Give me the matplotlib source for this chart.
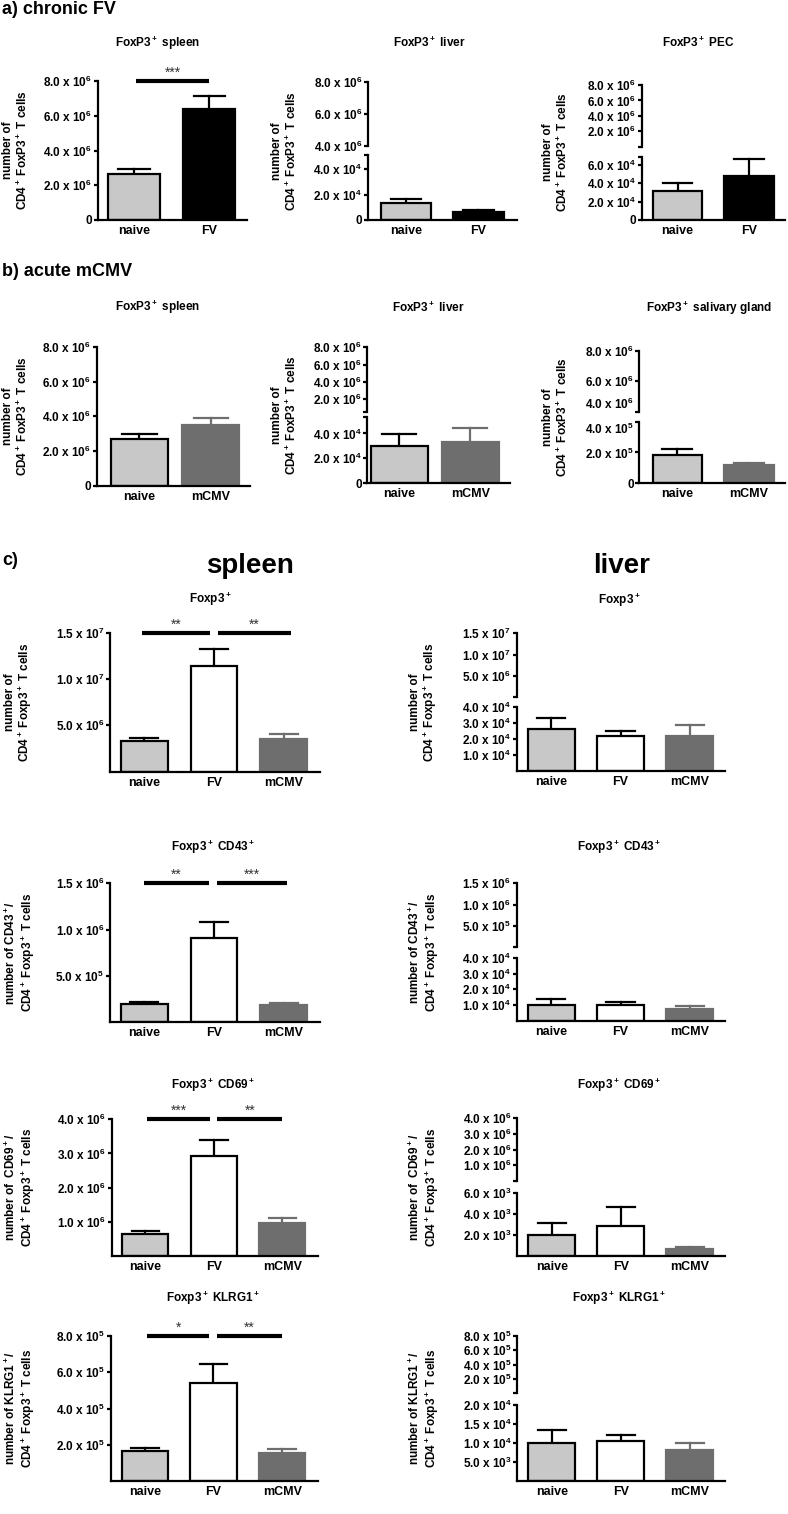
import numpy as np
import matplotlib
matplotlib.use("Agg")
import matplotlib.pyplot as plt

plt.rcParams['font.family'] = ['Liberation Sans', 'DejaVu Sans']
plt.rcParams['font.weight'] = 'bold'
plt.rcParams['mathtext.fontset'] = 'custom'
for k in ['rm', 'it', 'bf', 'sf']:
    plt.rcParams['mathtext.' + k] = 'Liberation Sans:bold'

# ---- data ----
groups_a = ["naive", "FV"]
groups_b = ["naive", "mCMV"]
groups_c = ["naive", "FV", "mCMV"]

a_spleen = [2.66e6, 6.39e6]
a_spleen_err = [0.26e6, 0.76e6]
a_liver = [1.31e4, 0.65e4]
a_liver_err = [0.34e4, 0.13e4]
a_pec = [3.2e4, 4.8e4]
a_pec_err = [0.88e4, 1.87e4]

b_spleen = [2.7e6, 3.49e6]
b_spleen_err = [0.27e6, 0.43e6]
b_liver = [3.0e4, 3.28e4]
b_liver_err = [0.94e4, 1.14e4]
b_sg = [1.84e5, 1.19e5]
b_sg_err = [0.39e5, 0.15e5]

c_spleen_foxp3 = [3.3e6, 1.145e7, 3.58e6]
c_spleen_foxp3_err = [0.35e6, 1.75e6, 0.47e6]
c_liver_foxp3 = [2.64e4, 2.2e4, 2.22e4]
c_liver_foxp3_err = [0.67e4, 0.33e4, 0.69e4]
c_spleen_cd43 = [1.97e5, 9.07e5, 1.83e5]
c_spleen_cd43_err = [0.22e5, 1.79e5, 0.27e5]
c_liver_cd43 = [1.0e4, 1.04e4, 0.73e4]
c_liver_cd43_err = [0.38e4, 0.16e4, 0.21e4]
c_spleen_cd69 = [0.63e6, 2.92e6, 0.97e6]
c_spleen_cd69_err = [0.10e6, 0.47e6, 0.13e6]
c_liver_cd69 = [2.0e3, 2.88e3, 0.64e3]
c_liver_cd69_err = [1.1e3, 1.76e3, 0.19e3]
c_spleen_klrg1 = [1.65e5, 5.4e5, 1.55e5]
c_spleen_klrg1_err = [0.15e5, 1.05e5, 0.2e5]
c_liver_klrg1 = [1.0e4, 1.05e4, 0.82e4]
c_liver_klrg1_err = [0.35e4, 0.15e4, 0.18e4]

NAIVE = '#c8c8c8'
MCMV = '#6e6e6e'

W, H = 788, 1514
fig = plt.figure(figsize=(W / 100, H / 100), dpi=100)


def rect(l, t, r, b):
    return [l / W, 1 - b / H, (r - l) / W, (b - t) / H]


def sci(v):
    if v == 0:
        return "0"
    e = int(np.floor(np.log10(v) + 1e-9))
    return f"{v / 10**e:.1f} x 10$^{{{e}}}$"


def bars(ax, vals, errs, fills, edges, width):
    x = np.arange(len(vals))
    ax.bar(x, vals, width=width, color=fills, edgecolor=edges, linewidth=1.6, zorder=2)
    for xi, v, e, ec in zip(x, vals, errs, edges):
        ax.plot([xi, xi], [v, v + e], color=ec, lw=1.6, zorder=1)
        ax.plot([xi - width * 0.3, xi + width * 0.3], [v + e, v + e], color=ec, lw=1.6, zorder=1)


def panel(l, r, segs, xlim, groups, vals, errs, fills, edges, width, title, tx, ty, ylabel, lx):
    axes = []
    n = len(segs)
    for i, (t, b, ylim, major) in enumerate(segs):
        ax = fig.add_axes(rect(l, t, r, b))
        ax.patch.set_alpha(0)
        ax.set_xlim(*xlim)
        ax.set_ylim(*ylim)
        ax.spines['top'].set_visible(False)
        ax.spines['right'].set_visible(False)
        ax.spines['left'].set_linewidth(1.6)
        last = i == n - 1
        ticks = list(major)
        labels = [sci(v) for v in major]
        if n > 1:
            end = ylim[1] if last else ylim[0]
            if not any(np.isclose(end, v) for v in major):
                ticks.append(end)
                labels.append('')
        ax.set_yticks(ticks)
        ax.set_yticklabels(labels)
        ax.tick_params(axis='y', length=3, width=1.6, labelsize=8.5, pad=1)
        if last:
            ax.spines['bottom'].set_linewidth(1.6)
            ax.set_xticks(range(len(groups)))
            ax.set_xticklabels(groups, fontsize=9)
            ax.tick_params(axis='x', length=0, pad=3.5)
            bars(ax, vals, errs, fills, edges, width)
        else:
            ax.spines['bottom'].set_visible(False)
            ax.set_xticks([])
        axes.append(ax)
    fig.text(tx / W, 1 - ty / H, title, ha='center', va='center', fontsize=8.5)
    yc = (segs[0][0] + segs[-1][1]) / 2
    fig.text(lx / W, 1 - yc / H, ylabel, rotation=90, ha='center', va='center',
             fontsize=8.5, multialignment='center', linespacing=1.1)
    return axes


def sig(ax, x0, x1, text):
    top = ax.get_ylim()[1]
    ax.plot([x0, x1], [top, top], color='k', lw=3, clip_on=False, solid_capstyle='butt')
    ax.annotate(text, ((x0 + x1) / 2, top), xytext=(0, 1), textcoords='offset points',
                ha='center', va='bottom', fontsize=10, fontweight='normal', color='#333333')


lab_ab = "number of\nCD4$^+$ FoxP3$^+$ T cells"
lab_c1 = "number of\nCD4$^+$ Foxp3$^+$ T cells"
lab_c2 = "number of CD43$^+$/\nCD4$^+$ Foxp3$^+$ T cells"
lab_c3 = "number of  CD69$^+$/\nCD4$^+$ Foxp3$^+$ T cells"
lab_c4 = "number of KLRG1$^+$/\nCD4$^+$ Foxp3$^+$ T cells"

# ---- panel a ----
fig.text(2 / W, 1 - 9 / H, "a) chronic FV", fontsize=13, va='center')
fa = [NAIVE, 'black']
ea = ['black', 'black']
ax = panel(97.7, 247, [(81, 220, (0, 8e6), [0, 2e6, 4e6, 6e6, 8e6])], (-0.48, 1.5),
           groups_a, a_spleen, a_spleen_err, fa, ea, 0.69,
           "FoxP3$^+$ spleen", 158, 43, lab_ab, 16)
sig(ax[0], 0.03, 1.0, "***")
panel(368, 517, [(82, 146, (4e6, 8e6), [4e6, 6e6, 8e6]), (155, 220, (0, 5.1e4), [0, 2e4, 4e4])],
      (-0.52, 1.53), groups_a, a_liver, a_liver_err, fa, ea, 0.69,
      "FoxP3$^+$ liver", 429, 43, lab_ab, 285)
panel(641.7, 785, [(85, 146.7, (0, 8e6), [2e6, 4e6, 6e6, 8e6]), (156.7, 220, (0, 6.9e4), [0, 2e4, 4e4, 6e4])],
      (-0.5, 1.5), groups_a, a_pec, a_pec_err, fa, ea, 0.69,
      "FoxP3$^+$ PEC", 698, 43, lab_ab, 556)

# ---- panel b ----
fig.text(2 / W, 1 - 272 / H, "b) acute mCMV", fontsize=13, va='center')
fb = [NAIVE, MCMV]
eb = ['black', MCMV]
panel(96.7, 250, [(346.7, 486, (0, 8e6), [0, 2e6, 4e6, 6e6, 8e6])], (-0.6, 1.55),
      groups_b, b_spleen, b_spleen_err, fb, eb, 0.8,
      "FoxP3$^+$ spleen", 158, 307, lab_ab, 16)
panel(367.3, 510, [(347.3, 411.7, (0.55e6, 8e6), [2e6, 4e6, 6e6, 8e6]), (417.3, 483.3, (0, 5.3e4), [0, 2e4, 4e4])],
      (-0.45, 1.56), groups_b, b_liver, b_liver_err, fb, eb, 0.8,
      "FoxP3$^+$ liver", 428, 308, lab_ab, 285)
axs = panel(639.3, 785, [(350.7, 411.7, (4e6, 8e6), [4e6, 6e6, 8e6]), (421.7, 483.3, (0, 4e5), [0, 2e5, 4e5])],
            (-0.53, 1.5), groups_b, b_sg, b_sg_err, fb, eb, 0.69,
            "FoxP3$^+$ salivary gland", 709, 308, lab_ab, 556)
axs[0].get_yticklabels()[0].set_va('bottom')
axs[1].get_yticklabels()[2].set_va('top')

# ---- panel c ----
fig.text(2 / W, 1 - 560 / H, "c)", fontsize=13, va='center')
fig.text(250 / W, 1 - 566 / H, "spleen", fontsize=20, ha='center', va='center')
fig.text(622 / W, 1 - 566 / H, "liver", fontsize=20, ha='center', va='center')
fc = [NAIVE, 'white', MCMV]
ec = ['black', 'black', MCMV]
xs = (-0.49, 2.52)
xl = (-0.5, 2.51)

ax = panel(110, 320, [(632.7, 771.7, (0, 1.5e7), [5e6, 1e7, 1.5e7])], xs,
           groups_c, c_spleen_foxp3, c_spleen_foxp3_err, fc, ec, 0.67,
           "Foxp3$^+$", 210, 599, lab_c1, 19)
sig(ax[0], -0.03, 0.95, "**")
sig(ax[0], 1.06, 2.1, "**")
panel(516.7, 725, [(633.3, 697.3, (0, 1.5e7), [5e6, 1e7, 1.5e7]), (707.3, 771, (0, 4e4), [1e4, 2e4, 3e4, 4e4])],
      xl, groups_c, c_liver_foxp3, c_liver_foxp3_err, fc, ec, 0.68,
      "Foxp3$^+$", 619, 600, lab_c1, 424)

ax = panel(110, 320, [(883.3, 1022.3, (0, 1.5e6), [5e5, 1e6, 1.5e6])], xs,
           groups_c, c_spleen_cd43, c_spleen_cd43_err, fc, ec, 0.67,
           "Foxp3$^+$ CD43$^+$", 213, 847, lab_c2, 20)
sig(ax[0], 0.0, 0.93, "**")
sig(ax[0], 1.05, 2.04, "***")
panel(516.7, 725, [(883.3, 947.3, (0, 1.5e6), [5e5, 1e6, 1.5e6]), (957.7, 1021, (0, 4e4), [1e4, 2e4, 3e4, 4e4])],
      xl, groups_c, c_liver_cd43, c_liver_cd43_err, fc, ec, 0.68,
      "Foxp3$^+$ CD43$^+$", 619, 847, lab_c2, 424)

ax = panel(111.7, 318, [(1119.3, 1256, (0, 4e6), [1e6, 2e6, 3e6, 4e6])], xs,
           groups_c, c_spleen_cd69, c_spleen_cd69_err, fc, ec, 0.67,
           "Foxp3$^+$ CD69$^+$", 213, 1085, lab_c3, 20)
sig(ax[0], 0.03, 0.94, "***")
sig(ax[0], 1.05, 2.0, "**")
panel(517.3, 725, [(1118.3, 1180.7, (0, 4e6), [1e6, 2e6, 3e6, 4e6]), (1192.7, 1256, (0, 6e3), [2e3, 4e3, 6e3])],
      xl, groups_c, c_liver_cd69, c_liver_cd69_err, fc, ec, 0.68,
      "Foxp3$^+$ CD69$^+$", 619, 1085, lab_c3, 424)

ax = panel(111, 318, [(1336, 1481, (0, 8e5), [2e5, 4e5, 6e5, 8e5])], xs,
           groups_c, c_spleen_klrg1, c_spleen_klrg1_err, fc, ec, 0.67,
           "Foxp3$^+$ KLRG1$^+$", 213, 1298, lab_c4, 20)
sig(ax[0], 0.03, 0.94, "*")
sig(ax[0], 1.05, 2.0, "**")
panel(517.3, 725, [(1336, 1393, (0, 8e5), [2e5, 4e5, 6e5, 8e5]), (1405, 1481, (0, 2e4), [5e3, 1e4, 1.5e4, 2e4])],
      xl, groups_c, c_liver_klrg1, c_liver_klrg1_err, fc, ec, 0.68,
      "Foxp3$^+$ KLRG1$^+$", 619, 1298, lab_c4, 424)

fig.savefig("out.png", dpi=100)
